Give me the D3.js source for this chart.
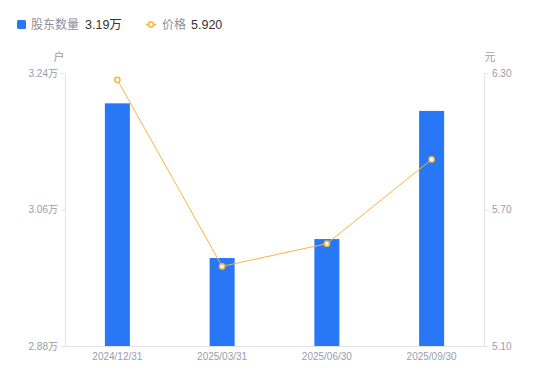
<!DOCTYPE html>
<html>
<head>
<meta charset="utf-8">
<script src="https://cdn.jsdelivr.net/npm/d3@7"></script>
<style>
  body { margin: 0; background: #fff; }
  svg text { font-family: "Liberation Sans", Roboto, "Noto Sans CJK SC", sans-serif; }
</style>
</head>
<body>
<div id="chart"></div>
<script>
// data
var dates = ["2024/12/31", "2025/03/31", "2025/06/30", "2025/09/30"];
var holders = [3.20, 2.996, 3.021, 3.19];   // 万户
var prices = [6.27, 5.45, 5.55, 5.92];      // 元
var leftTicks = [2.88, 3.06, 3.24];
var rightTicks = [5.10, 5.70, 6.30];

var width = 550, height = 381;
var margin = {top: 73, right: 66, bottom: 35, left: 65};

var svg = d3.select("#chart").append("svg")
  .attr("width", width)
  .attr("height", height);

var x = d3.scaleBand()
  .domain(dates)
  .range([margin.left, width - margin.right]);

var yLeft = d3.scaleLinear()
  .domain([2.88, 3.24])
  .range([height - margin.bottom, margin.top]);

var yRight = d3.scaleLinear()
  .domain([5.10, 6.30])
  .range([height - margin.bottom, margin.top]);

var axisColor = "#e3e4e8";
var labelColor = "#9a9cab";

// bottom axis
var xAxis = svg.append("g")
  .attr("transform", "translate(0," + (height - margin.bottom) + ")")
  .call(d3.axisBottom(x).tickSize(0).tickPadding(7));
xAxis.select(".domain").attr("stroke", axisColor);
xAxis.selectAll("text").attr("fill", labelColor).style("font-size", "10px")
  .style("font-family", "'Liberation Sans', sans-serif");

// left axis
var leftAxis = svg.append("g")
  .attr("transform", "translate(" + margin.left + ",0)")
  .call(d3.axisLeft(yLeft).tickValues(leftTicks).tickSize(4).tickSizeOuter(0).tickPadding(3)
    .tickFormat(function(d){ return d3.format(".2f")(d) + "万"; }));
leftAxis.select(".domain").attr("stroke", axisColor);
leftAxis.selectAll("line").attr("stroke", axisColor);
leftAxis.selectAll("text").attr("fill", labelColor).style("font-size", "10px")
  .style("font-family", "'Liberation Sans', 'Noto Sans CJK SC', sans-serif");

// right axis
var rightAxis = svg.append("g")
  .attr("transform", "translate(" + (width - margin.right) + ",0)")
  .call(d3.axisRight(yRight).tickValues(rightTicks).tickSize(4).tickSizeOuter(0).tickPadding(4)
    .tickFormat(d3.format(".2f")));
rightAxis.select(".domain").attr("stroke", axisColor);
rightAxis.selectAll("line").attr("stroke", axisColor);
rightAxis.selectAll("text").attr("fill", labelColor).style("font-size", "10px")
  .style("font-family", "'Liberation Sans', sans-serif");

// unit labels
svg.append("text").attr("x", 59).attr("y", 61).attr("text-anchor", "middle")
  .attr("fill", labelColor).style("font-size", "11px").text("户");
svg.append("text").attr("x", 490).attr("y", 61).attr("text-anchor", "middle")
  .attr("fill", labelColor).style("font-size", "11px").text("元");

// bars
var barW = 25;
svg.selectAll(".bar")
  .data(holders)
  .enter()
  .append("rect")
    .attr("class", "bar")
    .attr("x", function(d, i){ return x(dates[i]) + x.bandwidth() / 2 - barW / 2; })
    .attr("y", function(d){ return yLeft(d); })
    .attr("width", barW)
    .attr("height", function(d){ return yLeft(2.88) - yLeft(d); })
    .attr("fill", "#2777f6");

// price line
var line = d3.line()
  .x(function(d, i){ return x(dates[i]) + x.bandwidth() / 2; })
  .y(function(d){ return yRight(d); });

svg.append("path")
  .datum(prices)
  .attr("d", line)
  .attr("fill", "none")
  .attr("stroke", "#f7b53f")
  .attr("stroke-width", 1);

svg.selectAll(".dot")
  .data(prices)
  .enter()
  .append("circle")
    .attr("cx", function(d, i){ return x(dates[i]) + x.bandwidth() / 2; })
    .attr("cy", function(d){ return yRight(d); })
    .attr("r", 2.6)
    .attr("fill", "#fff")
    .attr("stroke", "#f7b53f")
    .attr("stroke-width", 1.5);

// legend
var legend = svg.append("g").style("font-size", "12.5px");
legend.append("rect").attr("x", 17).attr("y", 20).attr("width", 9).attr("height", 9)
  .attr("rx", 1.5).attr("fill", "#2777f6");
legend.append("text").attr("x", 31).attr("y", 29).attr("fill", "#8d8f9c")
  .style("font-family", "'Noto Sans CJK SC', sans-serif").style("font-size", "12px").text("股东数量");
legend.append("text").attr("x", 85).attr("y", 29).attr("fill", "#333")
  .text(d3.format(".2f")(holders[holders.length - 1]) + "万");

legend.append("line").attr("x1", 146).attr("x2", 156).attr("y1", 24.5).attr("y2", 24.5)
  .attr("stroke", "#f7b53f").attr("stroke-width", 1.5);
legend.append("circle").attr("cx", 151).attr("cy", 24.5).attr("r", 2.5)
  .attr("fill", "#fff").attr("stroke", "#f7b53f").attr("stroke-width", 1.5);
legend.append("text").attr("x", 162).attr("y", 29).attr("fill", "#8d8f9c")
  .style("font-family", "'Noto Sans CJK SC', sans-serif").style("font-size", "12px").text("价格");
legend.append("text").attr("x", 191).attr("y", 29).attr("fill", "#333")
  .text(d3.format(".3f")(prices[prices.length - 1]));
</script>
</body>
</html>
